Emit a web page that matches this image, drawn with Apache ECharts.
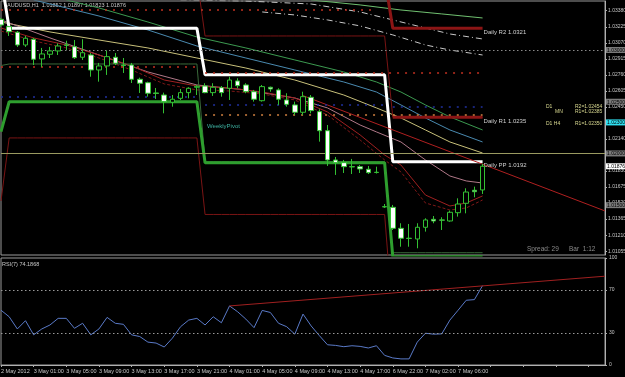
<!DOCTYPE html>
<html><head><meta charset="utf-8">
<script src="https://cdn.jsdelivr.net/npm/echarts@6.0.0/dist/echarts.min.js"></script>
<style>html,body{margin:0;padding:0;background:#000;overflow:hidden}#chart{width:625px;height:377px}</style>
</head><body><div id="chart"></div>
<script>
// ---------------- data ----------------
const times = ['2 May 2012','2 May 22:00','2 May 23:00','3 May 00:00','3 May 01:00','3 May 02:00','3 May 03:00','3 May 04:00','3 May 05:00','3 May 06:00',
 '3 May 07:00','3 May 08:00','3 May 09:00','3 May 10:00','3 May 11:00','3 May 12:00','3 May 13:00','3 May 14:00','3 May 15:00','3 May 16:00',
 '3 May 17:00','3 May 18:00','3 May 19:00','3 May 20:00','3 May 21:00','3 May 22:00','3 May 23:00','4 May 00:00','4 May 01:00','4 May 02:00',
 '4 May 03:00','4 May 04:00','4 May 05:00','4 May 06:00','4 May 07:00','4 May 08:00','4 May 09:00','4 May 10:00','4 May 11:00','4 May 12:00',
 '4 May 13:00','4 May 14:00','4 May 15:00','4 May 16:00','4 May 17:00','4 May 18:00','4 May 19:00','6 May 21:00','6 May 22:00','6 May 23:00',
 '7 May 00:00','7 May 01:00','7 May 02:00','7 May 03:00','7 May 04:00','7 May 05:00','7 May 06:00','7 May 07:00','7 May 08:00','7 May 09:00'];
const opens = [1.03297,1.03226,1.03172,1.03049,1.03104,1.02914,1.02959,1.02991,1.03049,1.03032,
 1.02930,1.02952,1.02807,1.02846,1.02930,1.02855,1.02855,1.02717,1.02684,1.02585,
 1.02565,1.02495,1.02533,1.02588,1.02640,1.02652,1.02588,1.02636,1.02630,1.02701,
 1.02662,1.02597,1.02510,1.02640,1.02614,1.02517,1.02469,1.02398,1.02543,1.02404,
 1.02220,1.01937,1.01911,1.01872,1.01872,1.01847,1.01818,1.01485,1.01479,1.01276,
 1.01180,1.01173,1.01286,1.01363,1.01357,1.01347,1.01427,1.01518,1.01644,1.01647];
const highs = [1.03310,1.03233,1.03184,1.03136,1.03117,1.03020,1.03030,1.03065,1.03090,1.03097,
 1.03104,1.02971,1.02875,1.02994,1.02971,1.02923,1.02875,1.02733,1.02694,1.02633,
 1.02588,1.02565,1.02623,1.02640,1.02662,1.02679,1.02679,1.02652,1.02742,1.02727,
 1.02679,1.02614,1.02662,1.02646,1.02630,1.02582,1.02501,1.02597,1.02565,1.02427,
 1.02275,1.01966,1.01937,1.01947,1.01888,1.01879,1.01872,1.01511,1.01502,1.01325,
 1.01318,1.01325,1.01373,1.01395,1.01383,1.01447,1.01566,1.01663,1.01679,1.01898];
const lows = [1.03223,1.03136,1.03030,1.03030,1.02855,1.02836,1.02923,1.02952,1.03000,1.02914,
 1.02904,1.02742,1.02694,1.02759,1.02855,1.02778,1.02681,1.02585,1.02549,1.02527,
 1.02388,1.02452,1.02517,1.02533,1.02565,1.02582,1.02556,1.02549,1.02517,1.02630,
 1.02582,1.02501,1.02501,1.02597,1.02469,1.02452,1.02372,1.02372,1.02388,1.02114,
 1.01879,1.01792,1.01811,1.01801,1.01811,1.01801,1.01806,1.01473,1.01260,1.01098,
 1.01098,1.01083,1.01244,1.01325,1.01260,1.01340,1.01389,1.01421,1.01576,1.01608];
const closes = [1.03242,1.03177,1.03049,1.03114,1.02911,1.02962,1.02991,1.03039,1.03046,1.02926,
 1.02974,1.02807,1.02846,1.02936,1.02872,1.02850,1.02717,1.02679,1.02582,1.02580,
 1.02501,1.02524,1.02588,1.02630,1.02649,1.02588,1.02640,1.02588,1.02710,1.02655,
 1.02597,1.02524,1.02646,1.02623,1.02524,1.02475,1.02398,1.02549,1.02414,1.02220,
 1.01937,1.01911,1.01872,1.01870,1.01850,1.01814,1.01816,1.01483,1.01276,1.01180,
 1.01178,1.01286,1.01357,1.01347,1.01355,1.01431,1.01511,1.01627,1.01630,1.01876];
const rsiValues = [51.2,45.1,33.7,41.4,28.2,33.7,37.4,43.6,43.6,34.3,
 39.0,28.2,33.7,44.5,39.0,38.0,28.2,26.6,21.4,20.5,
 16.8,25.1,35.8,42.0,43.6,37.4,45.1,39.5,55.2,49.7,
 42.9,34.9,51.0,49.1,39.0,35.8,28.8,47.6,36.5,27.5,
 18.9,18.3,17.1,18.0,17.4,15.9,18.0,9.0,6.6,5.7,
 5.7,21.4,29.7,28.8,29.1,42.0,51.2,60.5,61.1,74.19];
const priceTicks = [1.0338,1.03225,1.0307,1.02915,1.0276,1.02605,1.0245,1.02295,1.0214,1.01985,1.0183,1.01675,1.0152,1.01365,1.0121,1.01055];
const rsiTicks = [0,30,70,100];
const rsiLevels = [70,30];
const futureSlots = 15;
// pivot periods (bar index ranges) and their levels
const periodStarts = [0,1,25,48];
const periodEnds   = [0,24,47,59];
const dailyPP  = [1.0370,1.0321,1.0276,1.0192];
const dailyS1  = [1.0221,1.0250,1.0191,1.0100];
const dailyS2  = [1.0154,1.0215,1.0141,1.0040];
const dailyR1  = [1.0370,1.0370,1.03136,1.0235];
const dailyR2  = [1.0380,1.0380,1.0370,1.0321];
const thinGreen= [1.0285,1.02865,1.0192,1.0104];
// moving averages [barIndex, price]
const maPink  = [[0,1.03291],[6,1.03117],[12,1.02952],[18,1.02788],[24,1.02662],[30,1.02614],[36,1.02536],[40,1.02440],[44,1.02275],[46,1.02208],[49,1.02111],[52,1.01937],[55,1.01782],[57,1.01734],[59,1.01714]];
const maRed   = [[0,1.03213],[4,1.03117],[8,1.03049],[12,1.02952],[16,1.02846],[20,1.02710],[24,1.02652],[28,1.02633],[32,1.02594],[36,1.02536],[40,1.02401],[44,1.02179],[47,1.01985],[49,1.01888],[52,1.01598],[55,1.01492],[57,1.01521],[59,1.01589]];
const maRedDash=[[0,1.03184],[4,1.03088],[8,1.03020],[12,1.02923],[16,1.02807],[20,1.02672],[24,1.02614],[28,1.02604],[32,1.02575],[36,1.02517],[40,1.02372],[44,1.02130],[47,1.01937],[49,1.01821],[52,1.01521],[55,1.01453],[57,1.01473],[59,1.01550]];
const maYellow= [[0,1.03271],[6,1.03175],[12,1.03097],[18,1.03020],[24,1.02923],[30,1.02826],[36,1.02710],[42,1.02565],[46,1.02440],[49,1.02343],[52,1.02227],[55,1.02111],[59,1.02004]];
const maBlue  = [[4,1.03484],[8,1.03407],[12,1.03329],[18,1.03194],[24,1.03039],[30,1.02923],[36,1.02807],[42,1.02691],[46,1.02594],[49,1.02469],[52,1.02343],[55,1.02227],[59,1.02111]];
const maGreen = [[8,1.03484],[12,1.03407],[18,1.03271],[24,1.03126],[30,1.03020],[36,1.02904],[42,1.02788],[46,1.02691],[49,1.02594],[52,1.02469],[55,1.02353],[59,1.02227]];
const maLime  = [[38,1.03484],[44,1.03436],[49,1.03387],[54,1.03349],[59,1.03310]];
const bandUpper=[[22,1.03484],[30,1.03474],[38,1.03445],[44,1.03368],[48,1.03291],[52,1.03213],[55,1.03155],[59,1.03107]];
const bandMid  =[[32,1.03368],[36,1.03339],[40,1.03291],[44,1.03233],[48,1.03146],[52,1.03049],[55,1.03000],[59,1.02952]];
const priceTrend = [[37,1.02559],[74,1.01444]];
const rsiTrend   = [[28,55.2],[74,83.0]];
// full width horizontal levels
const roundLevels = [1.0300,1.0250,1.0200,1.0150];
const bidPrice = 1.01876;
const yellowLevels = [1.02454,1.02400];
const cyanLevel = 1.02300;
const oliveLevel = 1.02246;
// price boxes on the right scale
const boxValues = [1.0300,1.0250,1.0200,1.0150,1.01876,1.02300];
const boxKinds  = ['g','g','g','g','w','c'];
// dotted per-period levels: [startBar, endBar, price]
const redDots  = [[0,46,1.03387],[0,24,1.02836],[25,59,1.02778]];
const blueDots = [[0,24,1.02546],[25,47,1.02469],[48,59,1.02449]];
const orangeDots=[[25,47,1.02372],[48,59,1.02372]];

// -------------- build ----------------
const cats = times.concat(new Array(futureSlots).fill(''));
const candles = opens.map((o,i)=>[o,closes[i],lows[i],highs[i]]);
function expand(levels){const out=[];for(let p=0;p<levels.length;p++)for(let i=periodStarts[p];i<=periodEnds[p];i++)out[i]=levels[p];return out;}
function lineS(data,color,width,type,extra){return Object.assign({type:'line',xAxisIndex:0,yAxisIndex:0,data:data,symbol:'none',silent:true,
  lineStyle:{color:color,width:width,type:type||'solid'},z:2,animation:false},extra||{});}
function segs(list,color,dash){return {type:'line',xAxisIndex:0,yAxisIndex:0,data:[],silent:true,animation:false,
  markLine:{symbol:'none',silent:true,animation:false,label:{show:false},lineStyle:{color:color,width:1.5,type:dash},
  data:list.map(s=>[{coord:[s[0],s[2]]},{coord:[s[1],s[2]]}])}};}
function levelS(value,color,dash,xi,yi){
  return {type:'line',xAxisIndex:xi||0,yAxisIndex:yi||0,data:[],silent:true,animation:false,z:1,
    markLine:{symbol:'none',silent:true,animation:false,label:{show:false},
      lineStyle:{color:color,type:dash,width:1},data:[{yAxis:value}]}};
}
const endLbl=(txt)=>({show:true,formatter:txt,color:'#d0d0d0',fontSize:6,fontFamily:'Liberation Sans',distance:1,offset:[0,4]});

const levelSeries = [];
roundLevels.forEach(v=>levelSeries.push(levelS(v,'#8a8a8a',[1.5,2.5])));
levelSeries.push(levelS(bidPrice,'#9a9a9a','solid'));
yellowLevels.forEach(v=>levelSeries.push(levelS(v,'#d8d890','solid')));
levelSeries.push(levelS(cyanLevel,'#6fb8c8',[8,4]));
levelSeries.push(levelS(oliveLevel,'#9a9a60','solid'));
rsiLevels.forEach(v=>levelSeries.push(levelS(v,'#9a9a9a',[1.5,2.5],1,1)));

const boxFont = {fontSize:5,fontFamily:'Liberation Sans',padding:[1,1,0,1],color:'#000'};
const chart = echarts.init(document.getElementById('chart'),null,{renderer:'canvas'});
chart.setOption({
  backgroundColor:'#000000',
  animation:false,
  grid:[{left:1,right:20,top:1,height:254,show:true,borderColor:'#9a9a9a',borderWidth:1,outerBoundsMode:'none'},
        {left:1,right:20,top:258,height:107,show:true,borderColor:'#9a9a9a',borderWidth:1,outerBoundsMode:'none'}],
  xAxis:[{type:'category',gridIndex:0,data:cats,boundaryGap:false,axisLine:{show:false},axisTick:{show:false},axisLabel:{show:false},splitLine:{show:false}},
         {type:'category',gridIndex:1,data:cats,boundaryGap:false,axisLine:{show:true,lineStyle:{color:'#b0b0b0'}},
          axisTick:{show:true,interval:3,length:2,lineStyle:{color:'#b0b0b0'}},
          axisLabel:{show:true,interval:3,align:'left',margin:3,color:'#c8c8c8',fontSize:5.5,fontFamily:'Liberation Sans',hideOverlap:false},splitLine:{show:false}}],
  yAxis:[{type:'value',gridIndex:0,position:'right',min:1.01018,max:1.03474,splitLine:{show:false},
          axisLine:{show:true,lineStyle:{color:'#b0b0b0'}},
          axisTick:{show:true,length:2,customValues:priceTicks,lineStyle:{color:'#b0b0b0'}},
          axisLabel:{show:true,customValues:priceTicks,formatter:v=>v.toFixed(5),color:'#c8c8c8',fontSize:5,fontFamily:'Liberation Sans',margin:3}},
         {type:'value',gridIndex:1,position:'right',min:0,max:100,splitLine:{show:false},
          axisLine:{show:true,lineStyle:{color:'#b0b0b0'}},
          axisTick:{show:true,length:2,customValues:rsiTicks,lineStyle:{color:'#b0b0b0'}},
          axisLabel:{show:true,customValues:rsiTicks,color:'#c8c8c8',fontSize:5,fontFamily:'Liberation Sans',margin:4}},
         {type:'value',gridIndex:0,position:'right',min:1.01018,max:1.03474,splitLine:{show:false},axisLine:{show:false},axisTick:{show:false},z:10,
          axisLabel:{show:true,customValues:boxValues,margin:1,hideOverlap:false,
            formatter:v=>{let k=0;boxValues.forEach((b,i)=>{if(Math.abs(b-v)<1e-7)k=i;});return '{'+boxKinds[k]+'|'+v.toFixed(5)+'}';},
            rich:{g:Object.assign({backgroundColor:'#7a7a7a'},boxFont),w:Object.assign({backgroundColor:'#ffffff'},boxFont),c:Object.assign({backgroundColor:'#30e0f0'},boxFont)}}}],
  series:levelSeries.concat([
    segs(redDots,'#c03020',[2,6]),
    segs(blueDots,'#2030a0',[2,6]),
    segs(orangeDots,'#d08040',[2,6]),
    lineS(bandUpper,'#c8c8c8',1,[6,3,1,3]),
    lineS(bandMid,'#c8c8c8',1,[6,3,1,3]),
    lineS(maLime,'#70c070',1),
    lineS(maGreen,'#3c9a50',1),
    lineS(maBlue,'#4a8ab0',1),
    lineS(maYellow,'#c8c07a',1),
    lineS(maPink,'#b07888',1),
    lineS(maRed,'#a02020',1),
    lineS(maRedDash,'#801818',1,[3,2]),
    lineS(expand(thinGreen),'#3a6a3a',1),
    lineS(expand(dailyS2),'#7a1414',1),
    lineS(expand(dailyR1),'#7a1414',1),
    lineS(expand(dailyS1),'#2e9e2e',3),
    lineS(expand(dailyR2).map((v,i)=>i>=47?v:null),'#8b1515',3,'solid',{endLabel:endLbl('Daily R2 1.0321')}),
    lineS(expand(dailyR1).map((v,i)=>i>=48?v:null),'#8b1515',3,'solid',{endLabel:endLbl('Daily R1 1.0235')}),
    lineS(expand(dailyPP),'#ffffff',3,'solid',{endLabel:endLbl('Daily PP 1.0192')}),
    lineS(priceTrend,'#b02020',1),
    {type:'candlestick',xAxisIndex:0,yAxisIndex:0,data:candles,barWidth:5,silent:true,z:5,
      itemStyle:{color:'#000000',color0:'#ffffff',borderColor:'#33c033',borderColor0:'#33c033',borderWidth:1}},
    {type:'line',xAxisIndex:1,yAxisIndex:1,data:rsiValues,symbol:'none',silent:true,lineStyle:{color:'#5a7ac8',width:1}},
    {type:'line',xAxisIndex:1,yAxisIndex:1,data:rsiTrend,symbol:'none',silent:true,lineStyle:{color:'#a02020',width:1}}
  ]),
  graphic:[
    {type:'text',left:7,top:2,style:{text:'AUDUSD,H1  1.01852 1.01897 1.01823 1.01876',fill:'#c8c8c8',font:'5.5px Liberation Sans'}},
    {type:'text',left:2,top:261,style:{text:'RSI(7) 74.1868',fill:'#c8c8c8',font:'5.5px Liberation Sans'}},
    {type:'text',left:207,top:123,style:{text:'WeeklyPivot',fill:'#3cb0a0',font:'6px Liberation Sans'}},
    {type:'text',left:527,top:246,style:{text:'Spread: 29',fill:'#8a8a8a',font:'6.5px Liberation Sans'}},
    {type:'text',left:569,top:246,style:{text:'Bar  1:12',fill:'#8a8a8a',font:'6.5px Liberation Sans'}},
    {type:'text',left:546,top:104,style:{text:'D1',fill:'#d8d890',font:'5px Liberation Sans'}},
    {type:'text',left:555,top:109,style:{text:'MN',fill:'#d8d890',font:'5px Liberation Sans'}},
    {type:'text',left:546,top:121,style:{text:'D1 H4',fill:'#d8d890',font:'5px Liberation Sans'}},
    {type:'text',left:575,top:104,style:{text:'R2=1.02454',fill:'#d8d890',font:'5px Liberation Sans'}},
    {type:'text',left:575,top:109,style:{text:'R1=1.02385',fill:'#d8d890',font:'5px Liberation Sans'}},
    {type:'text',left:575,top:121,style:{text:'R1=1.02350',fill:'#d8d890',font:'5px Liberation Sans'}}
  ]
});
</script></body></html>
